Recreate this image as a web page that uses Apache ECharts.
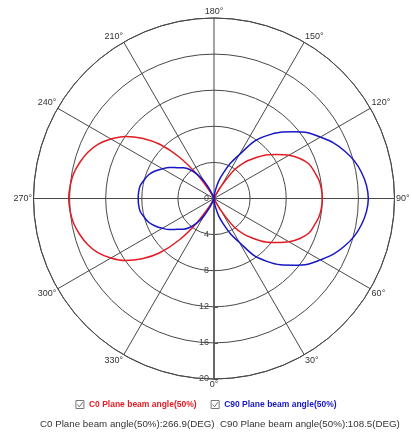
<!DOCTYPE html>
<html>
<head>
<meta charset="utf-8">
<script src="https://cdn.jsdelivr.net/npm/echarts@6/dist/echarts.min.js"></script>
<style>
html,body{margin:0;padding:0;background:#fff;}
#chart{width:412px;height:447px;}
</style>
</head>
<body>
<div id="chart"></div>
<script>
// angles in degrees (0 at bottom, counter-clockwise)
var angles = [0,5,10,15,20,25,30,35,40,45,50,55,60,65,70,75,80,85,90,95,100,105,110,115,120,125,130,135,140,145,150,155,160,165,170,175,
  180,185,190,195,200,205,210,215,220,225,230,235,240,245,250,255,260,265,270,275,280,285,290,295,300,305,310,315,320,325,330,335,340,345,350,355,360];
var c0Values = [0,0,0,0,0,0.3,1.5,3.8,5.2,6.3,7.5,8.5,9.6,10.5,11.2,11.5,11.8,11.95,12.0,11.95,11.8,11.5,11.2,10.5,9.6,8.5,7.5,6.3,5.2,3.8,1.5,0.3,0,0,0,0,
  0,0,0,0,0,0.2,1.0,3.2,6.0,8.5,10.4,12.0,13.2,14.2,14.9,15.4,15.8,16.0,16.1,16.0,15.8,15.4,14.9,14.2,13.2,12.0,10.4,8.5,6.0,3.2,1.0,0.2,0,0,0,0,0];
var c90Values = [0,0.4,1.0,2.0,3.0,4.3,5.6,7.7,9.1,10.4,11.5,12.7,13.6,14.6,15.4,16.1,16.6,16.95,17.1,16.95,16.6,16.1,15.4,14.6,13.6,12.7,11.5,10.4,9.1,7.7,5.6,4.3,3.0,2.0,1.0,0.4,
  0,0,0,0,0.3,1.0,2.2,3.3,4.2,4.8,5.3,6.0,6.6,7.2,7.7,8.0,8.3,8.38,8.4,8.38,8.3,8.0,7.7,7.2,6.6,6.0,5.3,4.8,4.2,3.3,2.2,1.0,0.3,0,0,0,0];
var radiusTicks = [0,4,8,12,16,20];
var seriesNames = ['C0 Plane beam angle(50%)','C90 Plane beam angle(50%)'];
var summaryText = 'C0 Plane beam angle(50%):266.9(DEG)  C90 Plane beam angle(50%):108.5(DEG)';

function pairs(vals){ return vals.map(function(v,i){ return [v, angles[i]]; }); }

var FONT = 'Liberation Sans, Arial, sans-serif';
var GRID = '#484848';
var RED = '#e31b23';
var BLUE = '#1616c4';
var checkIcon = 'path://M0,0H10V10H0Z M2,5L4.2,8L8.5,2';

var chart = echarts.init(document.getElementById('chart'), null, {renderer:'canvas'});
chart.setOption({
  backgroundColor:'#ffffff',
  animation:false,
  polar:{center:[214,198.5], radius:180.5},
  angleAxis:{
    type:'value', min:0, max:360, interval:30,
    startAngle:270, clockwise:false,
    axisLine:{show:true, lineStyle:{color:GRID, width:1}},
    axisTick:{show:false},
    axisLabel:{show:true, margin:1.5, formatter:'{value}°', color:'#333', fontSize:9, fontFamily:FONT},
    splitLine:{show:true, lineStyle:{color:GRID, width:1}}
  },
  radiusAxis:{
    type:'value', min:radiusTicks[0], max:radiusTicks[radiusTicks.length-1], interval:4,
    axisLine:{show:true, lineStyle:{color:'#555', width:1.5}},
    axisTick:{show:true, inside:true, length:4, lineStyle:{color:'#555'}},
    axisLabel:{show:true, margin:-5, align:'right', color:'#444', fontSize:9, fontFamily:FONT},
    splitLine:{show:true, lineStyle:{color:GRID, width:1}}
  },
  legend:{
    bottom:33, left:'center',
    itemWidth:8, itemHeight:8, itemGap:14,
    data:[
      {name:seriesNames[0], icon:checkIcon, itemStyle:{color:'transparent', borderColor:'#777', borderWidth:1}, textStyle:{color:RED}},
      {name:seriesNames[1], icon:checkIcon, itemStyle:{color:'transparent', borderColor:'#777', borderWidth:1}, textStyle:{color:BLUE}}
    ],
    textStyle:{fontSize:8.5, fontWeight:'bold', fontFamily:FONT}
  },
  title:{
    text:summaryText, left:35, top:414,
    textStyle:{fontSize:9.75, fontWeight:'normal', color:'#333', fontFamily:FONT}
  },
  series:[
    {name:seriesNames[0], type:'line', coordinateSystem:'polar', data:pairs(c0Values), showSymbol:false, symbol:'none',
      smooth:0.3, lineStyle:{color:RED, width:1.5}, itemStyle:{color:RED}},
    {name:seriesNames[1], type:'line', coordinateSystem:'polar', data:pairs(c90Values), showSymbol:false, symbol:'none',
      smooth:0.3, lineStyle:{color:BLUE, width:1.5}, itemStyle:{color:BLUE}}
  ]
});
</script>
</body>
</html>
